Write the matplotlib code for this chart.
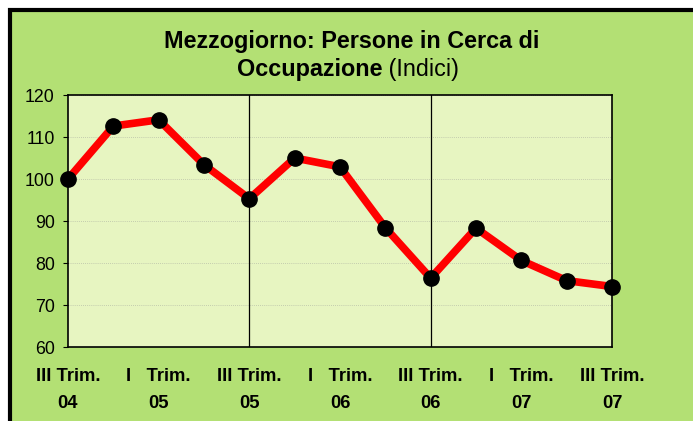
import matplotlib.pyplot as plt
from matplotlib.patches import Rectangle

# dati (indici, III trim. 04 = 100)
trimestri = list(range(13))
indici = [100, 112.6, 114.1, 103.4, 95.3, 105.0, 102.9, 88.4, 76.4, 88.3, 80.6, 75.8, 74.4]
etichette_pos = [0, 2, 4, 6, 8, 10, 12]
etichette = ["III Trim.\n04", "I   Trim.\n05", "III Trim.\n05", "I   Trim.\n06",
             "III Trim.\n06", "I   Trim.\n07", "III Trim.\n07"]
separatori = [4, 8]

verde = "#b3e074"
verde_chiaro = "#e7f5c1"

plt.rcParams['font.family'] = ['Liberation Sans', 'DejaVu Sans']

fig = plt.figure(figsize=(6.93, 4.21), dpi=100)
fig.patch.set_facecolor("white")
# sfondo verde con bordo nero (tagliato a destra e in basso)
fig.patches.append(Rectangle((10 / 693, -0.05), 1.1, 1 - 10 / 421 + 0.05,
                             transform=fig.transFigure, facecolor=verde,
                             edgecolor="black", linewidth=3, zorder=-5))

ax = fig.add_axes([68 / 693, 74 / 421, 544 / 693, 252 / 421])
ax.set_zorder(2)
ax.set_facecolor(verde_chiaro)

for s in separatori:
    ax.axvline(s, color="black", linewidth=0.9, zorder=1)

ax.plot(trimestri, indici, color="red", linewidth=5.5, zorder=3, clip_on=False)
ax.plot(trimestri, indici, "o", color="black", markersize=11, zorder=4, clip_on=False)

ax.set_xlim(0, 12)
ax.set_ylim(60, 120)
ax.set_yticks(range(60, 121, 10))
ax.yaxis.grid(True, color="#b8bfa8", linestyle=(0, (1, 1.5)), linewidth=0.6)
ax.set_axisbelow(True)
ax.tick_params(axis="y", labelsize=12.8, length=3.6, pad=6, direction="out")
ax.set_xticks(etichette_pos)
ax.set_xticklabels(etichette, fontweight="bold", fontsize=13.2, linespacing=1.75)
ax.tick_params(axis="x", length=0, pad=15)
for sp in ax.spines.values():
    sp.set_linewidth(1.2)

fig.text(0.507, 0.902, "Mezzogiorno: Persone in Cerca di", ha="center", va="center",
         fontsize=16.8, fontweight="bold", zorder=3)

# seconda riga del titolo: parte in grassetto + parte normale
fig.canvas.draw()
r = fig.canvas.get_renderer()
t1 = fig.text(0, 0.836, "Occupazione", va="center", fontsize=16.8, fontweight="bold", zorder=3)
t2 = fig.text(0, 0.836, " (Indici)", va="center", fontsize=16.8, zorder=3)
w1 = t1.get_window_extent(r).width / 693
w2 = t2.get_window_extent(r).width / 693
x0 = 0.502 - (w1 + w2) / 2
t1.set_x(x0)
t2.set_x(x0 + w1)

fig.savefig("out.png", dpi=100, facecolor=fig.get_facecolor())
